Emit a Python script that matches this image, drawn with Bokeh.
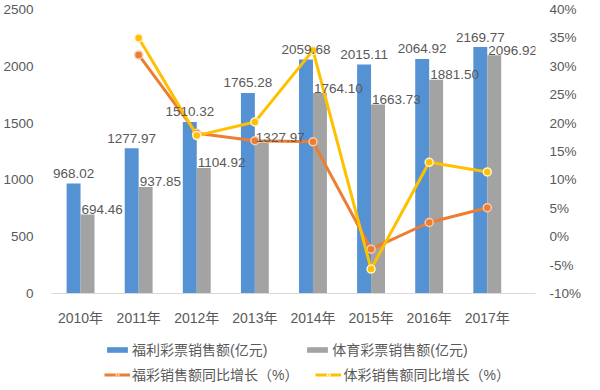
from bokeh.plotting import figure
from bokeh.models import (ColumnDataSource, Range1d, LinearAxis, FixedTicker,
                          PrintfTickFormatter, Legend, LegendItem)
from bokeh.layouts import column
from bokeh.transform import dodge
from bokeh.core.properties import value
from bokeh.embed import file_html
from bokeh.resources import INLINE

# ---- data ----
years = ["2010年", "2011年", "2012年", "2013年", "2014年", "2015年", "2016年", "2017年"]
fucai_sales = [968.02, 1277.97, 1510.32, 1765.28, 2059.68, 2015.11, 2064.92, 2169.77]
ticai_sales = [694.46, 937.85, 1104.92, 1327.97, 1764.10, 1663.73, 1881.50, 2096.92]
growth_years = ["2011年", "2012年", "2013年", "2014年", "2015年", "2016年", "2017年"]
fucai_growth = [32.0, 18.2, 16.9, 16.7, -2.2, 2.5, 5.1]
ticai_growth = [35.0, 17.8, 20.2, 32.8, -5.7, 13.1, 11.4]
left_ticks = [0, 500, 1000, 1500, 2000, 2500]
right_ticks = [-10, -5, 0, 5, 10, 15, 20, 25, 30, 35, 40]
series_names = ["福利彩票销售额(亿元)", "体育彩票销售额(亿元)",
                "福彩销售额同比增长（%）", "体彩销售额同比增长（%）"]

BLUE = "#5592d4"
GRAY = "#a3a3a3"
ORANGE = "#ed7d31"
YELLOW = "#ffc000"
ORANGE_EDGE = "#f8cbad"
YELLOW_EDGE = "#fff2cc"
TXT = "#595959"
FONT = "Liberation Sans, Noto Sans CJK SC"

xpos = list(range(len(years)))
gpos = [years.index(y) for y in growth_years]

src = ColumnDataSource(dict(
    x=xpos, fucai=fucai_sales, ticai=ticai_sales,
    fucai_lbl=["%.2f" % v for v in fucai_sales],
    ticai_lbl=["%.2f" % v for v in ticai_sales],
))
gsrc = ColumnDataSource(dict(x=gpos, fg=fucai_growth, tg=ticai_growth))

# ---------------- main chart ----------------
p = figure(width=584, height=337, x_range=Range1d(-0.5, len(years) - 0.17),
           y_range=Range1d(0, 2500), output_backend="svg", toolbar_location=None,
           min_border_left=0, min_border_right=0, min_border_top=9,
           min_border_bottom=44, outline_line_color=None)
p.xgrid.visible = False
p.ygrid.visible = False
p.extra_y_ranges = {"pct": Range1d(-10, 40)}

ly = p.yaxis[0]
ly.ticker = FixedTicker(ticks=left_ticks)

ra = LinearAxis(y_range_name="pct", ticker=FixedTicker(ticks=right_ticks),
                formatter=PrintfTickFormatter(format="%d%%"))
p.add_layout(ra, "right")

for ax in (ly, ra):
    ax.axis_line_color = None
    ax.major_tick_line_color = None
    ax.minor_tick_line_color = None
    ax.major_label_text_font = FONT
    ax.major_label_text_font_size = "13.5px"
    ax.major_label_text_color = TXT
ly.major_label_standoff = 12
ra.major_label_standoff = 8

xa = p.xaxis[0]
xa.ticker = FixedTicker(ticks=xpos)
xa.major_label_overrides = {i: y for i, y in zip(xpos, years)}
xa.axis_line_color = "#d9d9d9"
xa.axis_line_width = 1
xa.major_tick_line_color = None
xa.minor_tick_line_color = None
xa.major_label_standoff = 10
xa.major_label_text_font = FONT
xa.major_label_text_font_size = "14px"
xa.major_label_text_color = TXT

p.vbar(x=dodge("x", -0.12), top="fucai", width=0.24,
       source=src, fill_color=BLUE, line_color=None)
p.vbar(x=dodge("x", 0.12), top="ticai", width=0.24,
       source=src, fill_color=GRAY, line_color=None)

p.line(x="x", y="fg", source=gsrc, y_range_name="pct",
       line_color=ORANGE, line_width=3)
p.scatter(x="x", y="fg", source=gsrc, y_range_name="pct", size=8,
          fill_color=ORANGE, line_color=ORANGE_EDGE, line_width=1.5)
p.line(x="x", y="tg", source=gsrc, y_range_name="pct",
       line_color=YELLOW, line_width=3)
p.scatter(x="x", y="tg", source=gsrc, y_range_name="pct", size=8,
          fill_color=YELLOW, line_color=YELLOW_EDGE, line_width=1.5)

p.text(x=dodge("x", -0.12), y="fucai", text="fucai_lbl",
       source=src, text_align="center", text_baseline="alphabetic", y_offset=-10,
       text_font=value(FONT), text_font_size="13.5px", text_color=TXT)
p.text(x="x", y="ticai", text="ticai_lbl", source=src, text_align="left",
       text_baseline="alphabetic", x_offset=1, y_offset=-5,
       text_font=value(FONT), text_font_size="13.5px", text_color=TXT)

# ---------------- legend strip ----------------
pl = figure(width=584, height=45, x_range=Range1d(0, 1), y_range=Range1d(0, 1),
            output_backend="svg", toolbar_location=None,
            x_axis_type=None, y_axis_type=None, min_border=0,
            outline_line_color=None)
pl.xgrid.visible = False
pl.ygrid.visible = False
l_blue = pl.vbar(x="x", top="fucai", width=0.24, source=src,
                 fill_color=BLUE, line_color=None, visible=False)
l_gray = pl.vbar(x="x", top="ticai", width=0.24, source=src,
                 fill_color=GRAY, line_color=None, visible=False)
l_ol = pl.line(x="x", y="fg", source=gsrc, line_color=ORANGE, line_width=3,
               visible=False)
l_om = pl.scatter(x="x", y="fg", source=gsrc, size=8, fill_color=ORANGE,
                  line_color=ORANGE_EDGE, line_width=1.5, visible=False)
l_yl = pl.line(x="x", y="tg", source=gsrc, line_color=YELLOW, line_width=3,
               visible=False)
l_ym = pl.scatter(x="x", y="tg", source=gsrc, size=8, fill_color=YELLOW,
                  line_color=YELLOW_EDGE, line_width=1.5, visible=False)

common = dict(orientation="horizontal", glyph_width=26, glyph_height=7,
              label_height=18, label_standoff=2, padding=0, margin=0,
              border_line_color=None, background_fill_alpha=0,
              inactive_fill_alpha=0, label_text_font=FONT,
              label_text_font_size="14px", label_text_color=TXT)
legend1 = Legend(items=[
    LegendItem(label=series_names[0], renderers=[l_blue]),
    LegendItem(label=series_names[1], renderers=[l_gray]),
], location=(53, 23), spacing=37, **common)
legend2 = Legend(items=[
    LegendItem(label=series_names[2], renderers=[l_ol, l_om]),
    LegendItem(label=series_names[3], renderers=[l_yl, l_ym]),
], location=(53, -2), spacing=17, **common)
pl.add_layout(legend1)
pl.add_layout(legend2)

layout = column(p, pl, spacing=0)
open("out.html", "w").write(file_html(layout, INLINE))
